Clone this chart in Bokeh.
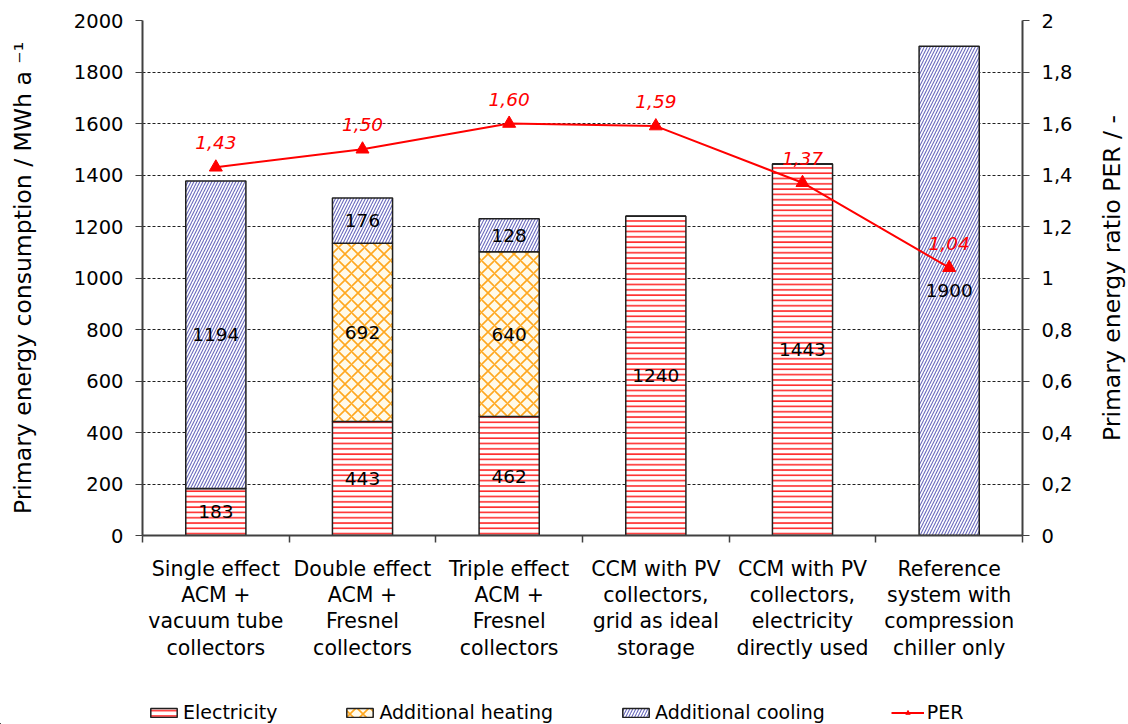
from bokeh.plotting import figure
from bokeh.layouts import column, row
from bokeh.models import (Range1d, LinearAxis, FixedTicker, Legend, LegendItem,
                          ColumnDataSource)
from bokeh.core.properties import value
from bokeh.embed import file_html
from bokeh.resources import INLINE

categories = [
    "Single effect\nACM +\nvacuum tube\ncollectors",
    "Double effect\nACM +\nFresnel\ncollectors",
    "Triple effect\nACM +\nFresnel\ncollectors",
    "CCM with PV\ncollectors,\ngrid as ideal\nstorage",
    "CCM with PV\ncollectors,\nelectricity\ndirectly used",
    "Reference\nsystem with\ncompression\nchiller only",
]
electricity = [183, 443, 462, 1240, 1443, 0]
heating = [0, 692, 640, 0, 0, 0]
cooling = [1194, 176, 128, 0, 0, 1900]
per = [1.43, 1.50, 1.60, 1.59, 1.37, 1.04]
per_labels = ["1,43", "1,50", "1,60", "1,59", "1,37", "1,04"]
left_ticks = [0, 200, 400, 600, 800, 1000, 1200, 1400, 1600, 1800, 2000]
right_ticks = [0, 0.2, 0.4, 0.6, 0.8, 1, 1.2, 1.4, 1.6, 1.8, 2]
right_tick_labels = ["0", "0,2", "0,4", "0,6", "0,8", "1", "1,2", "1,4", "1,6", "1,8", "2"]
series_names = ["Electricity", "Additional heating", "Additional cooling", "PER"]
left_title = "Primary energy consumption / MWh a \u207b\u00b9"
right_title = "Primary energy ratio PER / -"

FONT = "DejaVu Sans"
n = len(categories)
xs = [i + 0.5 for i in range(n)]
boundaries = list(range(n + 1))

# styles
BAR_FILL = ["white", "#FFFAEA", "white"]
BAR_HATCH = ["horizontal_line", "diagonal_cross", "right_diagonal_line"]
BAR_HATCH_COLOR = ["#FF2A2A", "#FFA820", "#6A6ABE"]
BAR_HATCH_SCALE = [5.3, 13, 6]
BAR_HATCH_WEIGHT = [1.6, 1.6, 1.1]
STACK = ["elec", "heat", "cool"]

src = ColumnDataSource(dict(x=xs, elec=electricity, heat=heating, cool=cooling))

MAIN_H = 684
p = figure(frame_width=880, frame_height=515, output_backend="svg", toolbar_location=None,
           x_range=Range1d(0, n), y_range=Range1d(0, 2000),
           min_border_left=142, min_border_right=52, min_border_top=20,
           min_border_bottom=MAIN_H - 20 - 515)
p.outline_line_color = None
p.background_fill_color = "white"
p.border_fill_color = "white"

bars = p.vbar_stack(STACK, x="x", width=0.41, source=src,
                    fill_color=BAR_FILL, hatch_pattern=BAR_HATCH,
                    hatch_color=BAR_HATCH_COLOR, hatch_scale=BAR_HATCH_SCALE,
                    hatch_weight=BAR_HATCH_WEIGHT,
                    line_color="#202020", line_width=1.5)

# value labels in the middle of each segment
lx, ly, lt = [], [], []
for i in range(n):
    base = 0
    for vals in (electricity, heating, cooling):
        v = vals[i]
        if v > 0:
            lx.append(xs[i]); ly.append(base + v / 2); lt.append(str(v))
        base += v
p.text(x=lx, y=ly, text=lt, text_align="center", text_baseline="middle",
       text_font=value(FONT), text_font_size="18.5px", text_color="black")

# PER on secondary axis
p.extra_y_ranges = {"per": Range1d(0, 2)}
p.line(xs, per, y_range_name="per", line_color="#FF0000", line_width=2)
p.scatter(xs, per, y_range_name="per", marker="triangle", size=13,
          fill_color="#FF0000", line_color="#FF0000")
p.text(x=xs, y=per, text=per_labels, y_range_name="per", y_offset=-18,
       text_align="center", text_baseline="bottom", text_font=value(FONT),
       text_font_size="18.5px", text_font_style="italic", text_color="#FF0000")

# grid
p.xgrid.visible = False
p.ygrid.ticker = FixedTicker(ticks=left_ticks)
p.ygrid.grid_line_color = "#202020"
p.ygrid.grid_line_dash = "3 2"
p.ygrid.grid_line_width = 1

# left axis
ya = p.yaxis[0]
ya.ticker = FixedTicker(ticks=left_ticks)
ya.axis_label = left_title

# right axis (ticks only; its title is drawn by the narrow panel on the right)
ra = LinearAxis(y_range_name="per", ticker=FixedTicker(ticks=right_ticks),
                major_label_overrides=dict(zip(right_ticks, right_tick_labels)))
p.add_layout(ra, "right")

# x axis
xa = p.xaxis[0]
xa.ticker = FixedTicker(ticks=xs, minor_ticks=boundaries)
xa.major_label_overrides = dict(zip(xs, categories))
xa.major_tick_line_color = None
xa.minor_tick_out = 7
xa.minor_tick_in = 0
xa.minor_tick_line_color = "#404040"
xa.minor_tick_line_width = 1.5
xa.major_label_standoff = 14

for ax in [ya, ra, xa]:
    ax.axis_line_color = "#404040"
    ax.axis_line_width = 2
    ax.major_label_text_font = FONT
    ax.major_label_text_font_size = "19.5px"
    ax.major_label_text_color = "black"
    ax.axis_label_text_font = FONT
    ax.axis_label_text_font_size = "23.5px"
    ax.axis_label_text_font_style = "normal"
    ax.axis_label_text_color = "black"
xa.major_label_text_font_size = "20.5px"
xa.major_label_text_line_height = 1.1
for ax in [ya, ra]:
    ax.major_tick_out = 7
    ax.major_tick_in = 0
    ax.minor_tick_line_color = None
    ax.major_tick_line_color = "#404040"
    ax.major_label_standoff = 12
ya.axis_label_standoff = 34

# narrow panel holding the right-hand title (reads bottom-to-top)
t = figure(frame_width=4, frame_height=515, output_backend="svg", toolbar_location=None,
           x_axis_type=None, y_axis_type=None,
           x_range=Range1d(0, 1), y_range=Range1d(0, 1),
           min_border_left=50, min_border_right=0, min_border_top=20,
           min_border_bottom=MAIN_H - 20 - 515)
t.outline_line_color = None
t.xgrid.visible = False
t.ygrid.visible = False
ta = LinearAxis(axis_label=right_title, ticker=FixedTicker(ticks=[]),
                axis_line_color=None, major_tick_line_color=None,
                minor_tick_line_color=None, major_label_text_color=None,
                axis_label_standoff=0, axis_label_text_font=FONT,
                axis_label_text_font_size="23.5px", axis_label_text_font_style="normal",
                axis_label_text_color="black")
t.add_layout(ta, "left")

# legend strip under the chart; its carrier glyphs use the same data and styles
# but lie outside this strip's visible ranges, so only the legend shows
lf = figure(width=1128, height=40, output_backend="svg", toolbar_location=None,
            x_axis_type=None, y_axis_type=None,
            x_range=Range1d(20, 21), y_range=Range1d(5000, 5001), min_border=0)
lf.outline_line_color = None
lf.xgrid.visible = False
lf.ygrid.visible = False
items = []
for k in range(3):
    r = lf.vbar(x="x", top=STACK[k], width=0.41, source=src, fill_color=BAR_FILL[k],
                hatch_pattern=BAR_HATCH[k], hatch_color=BAR_HATCH_COLOR[k],
                hatch_scale=BAR_HATCH_SCALE[k], hatch_weight=BAR_HATCH_WEIGHT[k],
                line_color="#202020", line_width=1.5)
    items.append(LegendItem(label=series_names[k], renderers=[r]))
rl = lf.line(xs, per, line_color="#FF0000", line_width=2)
rs = lf.scatter(xs, per, marker="triangle", size=13, fill_color="#FF0000",
                line_color="#FF0000")
items.append(LegendItem(label=series_names[3], renderers=[rl, rs]))
legend = Legend(items=items, orientation="horizontal", location=(147, 1), spacing=66,
                border_line_color=None, background_fill_alpha=0,
                label_text_font=FONT, label_text_font_size="19px",
                label_text_color="black",
                glyph_width=33, glyph_height=11, label_standoff=3, padding=0, margin=0)
lf.add_layout(legend)

layout = column(row(p, t, spacing=0), lf, spacing=0)
open("out.html", "w").write(file_html(layout, INLINE))
